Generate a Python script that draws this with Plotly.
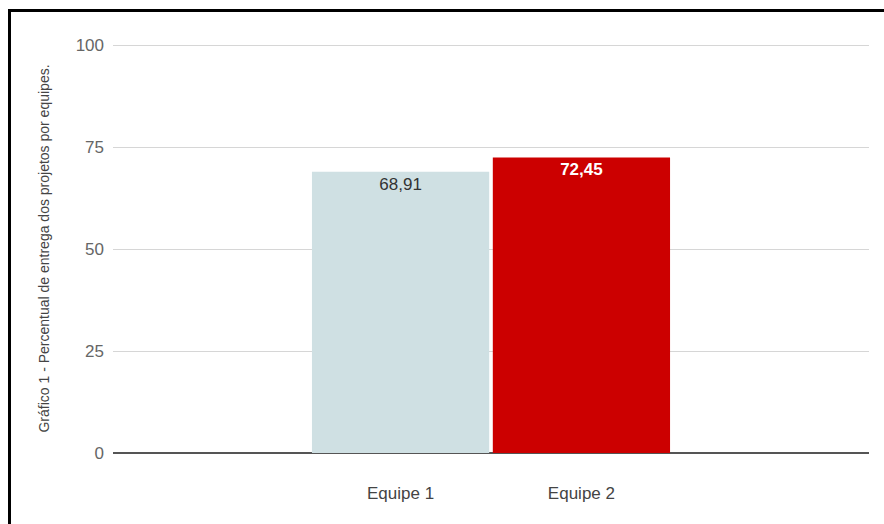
import plotly.graph_objects as go

categories = ["Equipe 1", "Equipe 2"]
values = [68.91, 72.45]
bar_colors = ["#cfe0e3", "#cc0000"]
label_colors = ["#333333", "#ffffff"]
label_templates = ["%{y:.2f}", "<b>%{y:.2f}</b>"]
y_ticks = [0, 25, 50, 75, 100]
y_title = "Gráfico 1 - Percentual de entrega dos projetos por equipes."

W, H = 884, 524
L, R, T, B = 113, 15, 44, 71
pw, ph = W - L - R, H - T - B

fig = go.Figure()
fig.add_trace(go.Bar(
    x=categories, y=values,
    marker=dict(color=bar_colors, line=dict(width=0)),
    texttemplate=label_templates,
    textposition="inside",
    insidetextanchor="end",
    textangle=0,
    textfont=dict(color=label_colors, size=17, family="Liberation Sans, Arial"),
    showlegend=False,
))

def px_x(x):
    return (x - L) / pw

def px_y(y):
    return (H - B - y) / ph

fig.add_shape(type="rect", xref="paper", yref="paper",
              x0=px_x(9.5), x1=px_x(900), y0=px_y(10.5), y1=px_y(540),
              line=dict(color="black", width=3), fillcolor="rgba(0,0,0,0)", layer="above")

fig.update_layout(
    width=W, height=H,
    margin=dict(l=L, r=R, t=T, b=B),
    paper_bgcolor="white", plot_bgcolor="white",
    separators=",.",
    bargap=0.02,
    font=dict(family="Liberation Sans, Arial", color="#444444"),
    xaxis=dict(
        range=[-1.59, 2.59],
        showgrid=False, zeroline=False, showline=False,
        tickfont=dict(size=17, color="#444444"),
        ticklabelstandoff=28,
    ),
    yaxis=dict(
        range=[0, 100.25],
        tickvals=y_ticks,
        showgrid=True, gridcolor="#d6d6d6", gridwidth=1,
        zeroline=True, zerolinecolor="#555555", zerolinewidth=2,
        showline=False,
        tickfont=dict(size=17, color="#666666"),
        ticklabelstandoff=8,
        title=dict(text=y_title, font=dict(size=14, color="#444444"), standoff=22),
    ),
)

fig.write_html("out.html")
